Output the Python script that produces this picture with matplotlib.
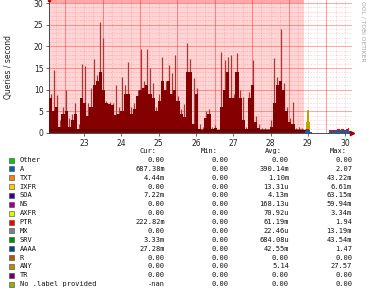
import matplotlib
matplotlib.use('Agg')
import matplotlib.pyplot as plt
import numpy as np
from matplotlib.patches import Rectangle

##################################################################
## Data (2 hour bins, day axis: label "23" = 23)
t0 = 22.06
step = 1.0 / 12
avg_q = [8, 5, 6, 1.5, 4.5, 5, 1.5, 3, 4.5, 1, 8, 7, 4, 6, 11, 12, 14, 10, 7, 6.8, 6.5,
         4.2, 4.5, 5, 9, 9, 4.5, 5.5, 8.5, 10, 10.5, 11, 9, 8, 5, 7.5, 12, 10, 12, 9, 10, 7.5,
         4.5, 3.8, 14, 14, 2, 9, 1, 0.7, 3.5, 4.5, 1, 1.2, 0.6, 6, 10, 14, 8, 8, 14, 8,
         3, 1, 8, 11, 2.5, 1.2, 0.8, 0.8, 0.7, 1.5, 7, 11, 12, 10, 5, 2.5, 2, 0.8, 0.8, 0.8, 0.6]
max_q = [9, 14.5, 8.8, 3, 6, 10, 3.5, 4.5, 7, 2, 16, 15.5, 7, 10.5, 17, 13.5, 25.7, 22, 7.5, 7.2, 7,
         11, 6, 13, 11, 16.5, 6, 7, 10, 19.5, 12, 19.5, 15, 11.5, 6, 9, 17.6, 12, 15.7, 13.8, 18, 8.5,
         5.5, 6.8, 20.7, 17, 12.6, 10.5, 2, 1.5, 5, 5.5, 1.5, 1.8, 1, 18.8, 16.8, 17.6, 18, 9, 18.4, 10,
         8.4, 1.5, 9.5, 16.8, 4, 2, 1.2, 1.2, 1, 3, 17.2, 13, 24, 11.5, 6, 3.5, 7.2, 1.2, 1.5, 1.2, 1]
shade_end = 28.9

## after the red zone (1 hour bins)
t1 = 28.92
a_q = [0.6, 0.8, 0.7, 0.5, 0.3, 0, 0, 0, 0, 0, 0, 0, 0, 0, 0, 0,
       0.4, 0.5, 0.5, 0.4, 0.5, 0.6, 0.5, 0.5, 0.6, 0.5, 0.5, 0.6, 0.7, 0.3]
ptr_q = [0.1, 0.2, 0.2, 0.1, 0, 0, 0, 0, 0, 0, 0, 0, 0, 0, 0, 0,
         0.3, 0.2, 0.3, 0.4, 0.3, 0.3, 0.4, 0.3, 0.3, 0.4, 0.3, 0.4, 0.5, 0.2]
ixfr_q = [0, 1.5, 4.5, 2, 0, 0, 0, 0, 0, 0, 0, 0, 0, 0, 0, 0,
          0, 0, 0, 0, 0, 0, 0, 0, 0, 0, 0, 0, 0, 0]

## legend
names = ['Other', 'A', 'TXT', 'IXFR', 'SOA', 'NS', 'AXFR', 'PTR', 'MX', 'SRV',
         'AAAA', 'R', 'ANY', 'TR', 'No .label provided']
colors = ['#00CC00', '#0066B3', '#FF8000', '#FFCC00', '#330099', '#990099', '#CCFF00',
          '#FF0000', '#808080', '#008F00', '#00487D', '#B35A00', '#B38F00', '#6B006B', '#8FB300']
cur = ['0.00', '687.38m', '4.44m', '0.00', '7.22m', '0.00', '0.00', '222.82m', '0.00',
       '3.33m', '27.28m', '0.00', '0.00', '0.00', '-nan']
mins = ['0.00'] * 15
avgs = ['0.00', '390.14m', '1.10m', '13.31u', '4.13m', '168.13u', '70.92u', '61.19m',
        '22.46u', '684.08u', '42.55m', '0.00', '5.14', '0.00', '0.00']
maxs = ['0.00', '2.07', '43.22m', '6.61m', '63.15m', '59.94m', '3.34m', '1.94', '13.19m',
        '43.54m', '1.47', '0.00', '27.57', '0.00', '0.00']
days = [23, 24, 25, 26, 27, 28, 29, 30]

##################################################################
W, H = 370, 290
fig = plt.figure(figsize=(3.7, 2.9), dpi=100, facecolor='white')
ax = fig.add_axes([49 / W, 1 - 133 / H, 303 / W, 133 / H])
xmin, xmax = 22.06, 30.185
ymax = 30.7
ax.set_xlim(xmin, xmax)
ax.set_ylim(0, ymax)

# red warning zone
ax.axvspan(xmin, shade_end, color='#FFD4D4', zorder=0, lw=0)
ax.fill_between([xmin, shade_end], 30, ymax, color='#FFAAAA', zorder=0.5, lw=0)

# grid
for d in np.arange(22, 31, 0.25):
    if abs(d - round(d) - 0.5) < 1e-6 or abs(d - round(d) + 0.5) < 1e-6:
        ax.axvline(d, color='#FF0000', alpha=0.45, lw=0.6, zorder=1)
    else:
        ax.axvline(d, color='#FF0000', alpha=0.22, lw=0.5, ls=(0, (2, 2)), zorder=1)
for y in range(0, 31):
    if y % 5 == 0:
        ax.axhline(y, color='#FF0000', alpha=0.4, lw=0.6, zorder=1)
    else:
        ax.axhline(y, color='#FF0000', alpha=0.22, lw=0.5, ls=(0, (2, 2)), zorder=1)

# queries
tb = t0 + np.arange(len(avg_q)) * step
ax.vlines(tb + step / 2, 0, max_q, color='#A53A3A', lw=0.9, zorder=2)
ax.bar(tb, avg_q, width=step, align='edge', color='#850000', lw=0, zorder=3)
ax.plot(tb + step / 2, np.minimum(avg_q, 0.7), color='#300000', lw=0.6, zorder=4)

ta = t1 + np.arange(len(a_q)) / 24.0
a_arr = np.array(a_q)
p_arr = np.array(ptr_q)
i_arr = np.array(ixfr_q)
ax.fill_between(ta, 0, a_arr, step='mid', color='#0066B3', lw=0, zorder=3)
ax.fill_between(ta, a_arr, a_arr + p_arr, step='mid', color='#FF0000', lw=0, zorder=3)
ax.fill_between(ta, a_arr + p_arr, a_arr + p_arr + i_arr, step='mid', color='#C8A000',
                lw=0, zorder=3)

# axes
for s in ['top', 'right']:
    ax.spines[s].set_visible(False)
ax.spines['left'].set_color('#333333')
ax.spines['bottom'].set_color('#333333')
ax.spines['left'].set_linewidth(0.6)
ax.spines['bottom'].set_linewidth(0.6)
ax.plot([xmax], [0], marker='>', ms=3, color='#A00000', clip_on=False, zorder=5)
ax.plot([xmin], [ymax], marker='s', ms=2, color='#CC0000', clip_on=False, zorder=5)
ax.set_xticks(days)
ax.set_xticklabels([str(d) for d in days])
ax.set_yticks(range(0, 31, 5))
ax.tick_params(axis='both', labelsize=5.5, length=2, width=0.5, color='#333333',
               labelcolor='#222222', pad=2)
fig.text(8.5 / W, 1 - 67 / H, 'Queries / second', rotation=90, ha='center', va='center',
         fontsize=5.5, color='#222222')
# watermark, only the part visible in the cropped original
fig.text(363 / W, 1 - 1 / H, 'OOL / TOBI OETIKER', rotation=270, ha='center',
         va='top', fontsize=4.3, color='#A0A0A0')

# legend table
mono = 'DejaVu Sans Mono'
fs = 5.0
hy = 1 - 151 / H
for lab, xr in zip(['Cur:', 'Min:', 'Avg:', 'Max:'], [157, 218, 282, 347]):
    fig.text(xr / W, hy, lab, ha='right', va='center', family=mono, fontsize=fs,
             color='#111111')
for i, nm in enumerate(names):
    yc = 160 + 8.87 * i
    fig.patches.append(Rectangle(((9) / W, 1 - (yc + 2.5) / H), 5 / W, 5 / H,
                                 transform=fig.transFigure, facecolor=colors[i],
                                 edgecolor='#444444', lw=0.4))
    yy = 1 - yc / H
    fig.text(19.5 / W, yy, nm, ha='left', va='center', family=mono, fontsize=fs,
             color='#111111')
    for col, xr in zip([cur, mins, avgs, maxs], [165, 228, 289, 352]):
        fig.text(xr / W, yy, col[i], ha='right', va='center', family=mono, fontsize=fs,
                 color='#111111')

plt.savefig('out.png', dpi=100, facecolor=fig.get_facecolor())
plt.close()
